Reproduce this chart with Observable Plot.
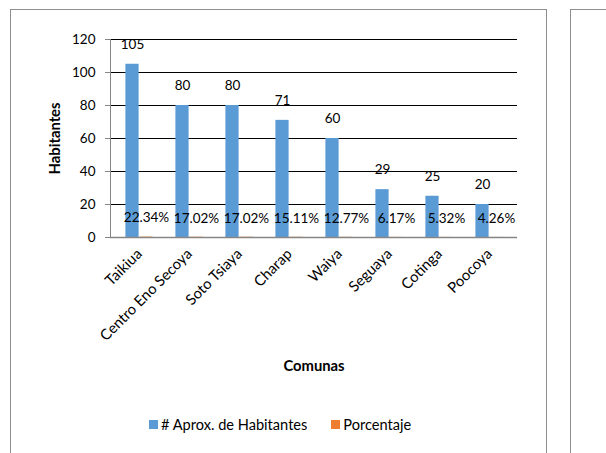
<!DOCTYPE html>
<html>
<head>
<meta charset="utf-8">
<script src="https://cdn.jsdelivr.net/npm/d3@7"></script>
<script src="https://cdn.jsdelivr.net/npm/@observablehq/plot@0.6"></script>
<style>
  body { margin: 0; background: #fff; font-family: Lato, "Liberation Sans", sans-serif; }
  #wrap { position: relative; width: 606px; height: 453px; overflow: hidden; background: #fff; }
  .frame { position: absolute; border: 1px solid #8e8e8e; box-sizing: border-box; }
  #chart { position: absolute; left: 0; top: 0; }
  #legend { position: absolute; top: 416px; left: 149px; font: 14.6px Lato, sans-serif; color: #000; display: flex; align-items: center; white-space: nowrap; }
  #legend .item { display: flex; align-items: center; margin-right: 24px; }
  #legend .sw { width: 9px; height: 9px; margin-right: 3px; display: inline-block; }
</style>
</head>
<body>
<div id="wrap">
  <div class="frame" style="left:10px;top:9px;width:537px;height:520px;"></div>
  <div class="frame" style="left:570px;top:9px;width:100px;height:520px;"></div>
  <div id="chart"></div>
  <div id="legend"></div>
</div>
<script>
const comunas = ["Taikiua", "Centro Eno Secoya", "Soto Tsiaya", "Charap", "Waiya", "Seguaya", "Cotinga", "Poocoya"];
const habitantes = [105, 80, 80, 71, 60, 29, 25, 20];
const porcentaje = [0.2234, 0.1702, 0.1702, 0.1511, 0.1277, 0.0617, 0.0532, 0.0426];
const yTicks = [0, 20, 40, 60, 80, 100, 120];
const seriesNames = ["# Aprox. de Habitantes", "Porcentaje"];
const seriesColors = ["#5B9BD5", "#ED7D31"];

const data = comunas.map((c, i) => ({ comuna: c, hab: habitantes[i], pct: porcentaje[i] }));
const fmtPct = d3.format(".2%");

const chart = Plot.plot({
  width: 606,
  height: 453,
  marginLeft: 110,
  marginRight: 89,
  marginTop: 39,
  marginBottom: 216,
  style: { fontFamily: "Lato, sans-serif", fontSize: "13.5px", color: "#000", background: "transparent", overflow: "visible" },
  x: { domain: comunas, padding: 0 },
  y: { domain: [0, 120] },
  marks: [
    Plot.gridY(yTicks.filter(d => d > 0), { stroke: "#000", strokeOpacity: 1 }),
    Plot.barY(data, { x: "comuna", y: "pct", fill: seriesColors[1], insetLeft: 25.4, insetRight: 11.4 }),
    Plot.barY(data, { x: "comuna", y: "hab", fill: seriesColors[0], insetLeft: 11.4, insetRight: 25.4 }),
    Plot.ruleY([0], { stroke: "#868686", strokeWidth: 1.5 }),
    Plot.frame({ anchor: "left", stroke: "#868686" }),
    Plot.axisY({ ticks: yTicks, tickSize: 5, tickPadding: 10, stroke: "#868686", label: "Habitantes", labelAnchor: "center", labelOffset: 61, labelArrow: "none" }),
    Plot.axisX({ tickSize: 0, tickRotate: -45, tickPadding: 14, fontSize: 14.8, label: null }),
    Plot.axisX({ ticks: [], tickSize: 0, label: "Comunas", labelAnchor: "center", labelOffset: 133, labelArrow: "none" }),
    Plot.text(data, { x: "comuna", y: "hab", text: d => String(d.hab), dx: -7, dy: -20 }),
    Plot.text(data, { x: "comuna", y: "pct", text: d => fmtPct(d.pct), dx: 7, dy: -19 })
  ]
});
d3.select(chart).selectAll('g[aria-label="y-axis label"], g[aria-label="x-axis label"]')
  .attr("font-weight", "bold").attr("font-size", "14.8px");
document.getElementById("chart").appendChild(chart);

const legend = d3.select("#legend");
seriesNames.forEach((name, i) => {
  const item = legend.append("div").attr("class", "item");
  item.append("span").attr("class", "sw").style("background", seriesColors[i]);
  item.append("span").text(name);
});
</script>
</body>
</html>
